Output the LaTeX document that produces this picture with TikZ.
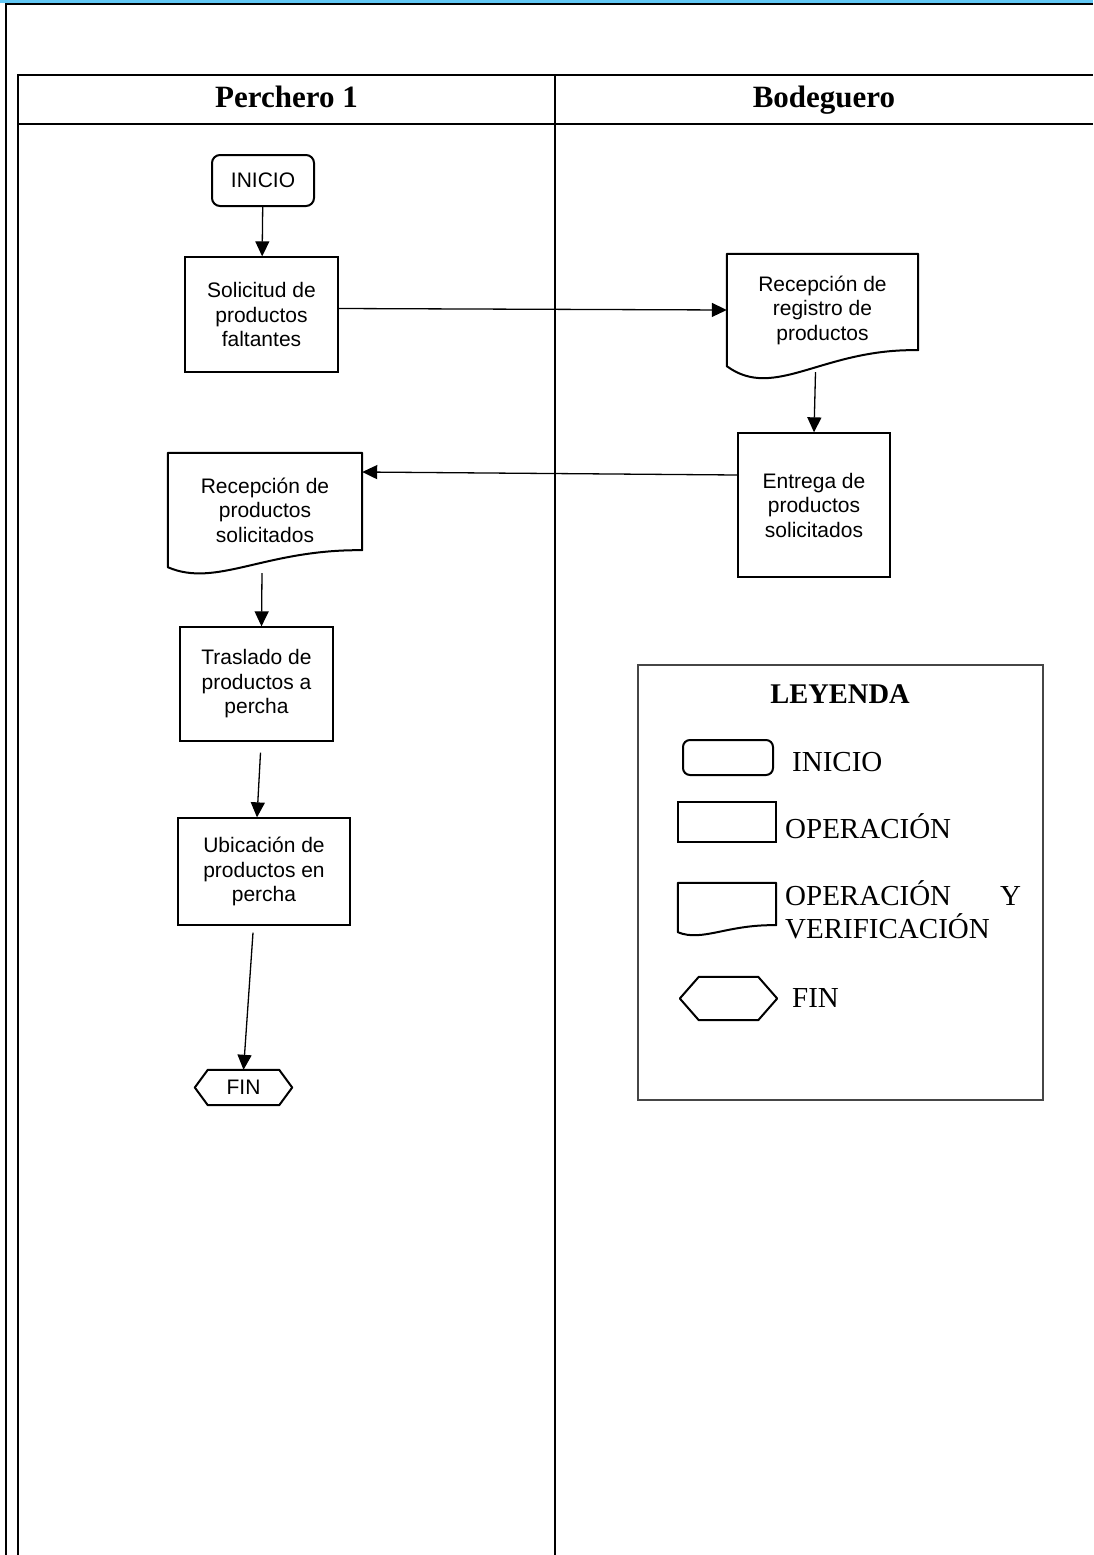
\documentclass[tikz,border=0pt]{standalone}
\usepackage{fontspec}
\setmainfont{Liberation Serif}
\newfontfamily\arialfont{Liberation Sans}
\usetikzlibrary{arrows.meta,calc}
\definecolor{bandblue}{RGB}{98,200,245}
\definecolor{legendgray}{RGB}{70,70,70}

\tikzset{
  frame/.style={line width=2pt},
  procbox/.style={draw, rectangle, line width=1.3pt, align=center, inner sep=0pt,
    font=\arialfont\fontsize{21}{24.5}\selectfont},
  startbox/.style={procbox, rounded corners=8pt, line width=2pt},
  docbox/.style={rectangle, draw=none, align=center, inner sep=0pt,
    font=\arialfont\fontsize{21}{24.5}\selectfont},
  hexbox/.style={docbox},
  flow/.style={line width=1.3pt, -{Triangle[length=15pt,width=14pt]}},
  docline/.style={line width=2pt, line join=round},
  head/.style={anchor=base, font=\bfseries\fontsize{31}{36}\selectfont},
  legtext/.style={anchor=west, inner sep=0pt, align=left,
    font=\fontsize{29}{33}\selectfont},
  legshape/.style={draw, line width=2pt, inner sep=0pt},
}

% document symbol drawn round a node: name, rise of the right corner,
% depth and height of the bottom wave's control points
\newcommand\docoutline[4]{%
  \draw[docline] (#1.south west) -- (#1.north west) -- (#1.north east)
    -- ([yshift=#2]#1.south east)
    .. controls ($(#1.south west)!0.5!(#1.south east)+(0,#4)$)
       and ($(#1.south west)!0.25!(#1.south east)+(0,-#3)$) .. (#1.south west) -- cycle;}

% hexagon (terminator) drawn round a node: name, length of the points
\newcommand\hexoutline[2]{%
  \draw[docline] (#1.west) -- ([xshift=#2]#1.north west) -- ([xshift=-#2]#1.north east)
    -- (#1.east) -- ([xshift=-#2]#1.south east) -- ([xshift=#2]#1.south west) -- cycle;}

\begin{document}
\begin{tikzpicture}[x=1pt,y=-1pt]
\useasboundingbox (0,0) rectangle (1093,1555);

% page frame and swim-lane table
\fill[bandblue] (0,0) rectangle (1093,3.2);
\draw[frame] (5.8,1555) -- (5.8,4.2) -- (1093,4.2);
\draw[frame] (18.3,1555) -- (18.3,75) -- (1093,75);
\draw[frame] (18.3,124.3) -- (1093,124.3);
\draw[frame] (555,75) -- (555,1555);

\node[head] (h1) at (286.5,107.5) {Perchero 1};
\node[head] (h2) at (824,107.5) {Bodeguero};

% flow
\node[startbox, minimum width=102pt, minimum height=51pt] (ini) at (263,180.5) {INICIO};
\node[procbox, minimum width=153pt, minimum height=115pt] (sol) at (261.5,314.5)
  {Solicitud de\\productos\\faltantes};
\node[docbox, minimum width=191pt, minimum height=112pt] (rr) at (822.5,310)
  {Recepción de\\registro de\\productos};
\docoutline{rr}{16pt}{35pt}{18pt}
\node[procbox, minimum width=152pt, minimum height=144pt] (ent) at (814,505)
  {Entrega de\\productos\\solicitados};
\node[docbox, minimum width=194pt, minimum height=114pt] (rp) at (265,510)
  {Recepción de\\productos\\solicitados};
\docoutline{rp}{17pt}{21pt}{18pt}
\node[procbox, minimum width=153pt, minimum height=114pt] (tr) at (256.5,684)
  {Traslado de\\productos a\\percha};
\node[procbox, minimum width=172pt, minimum height=107pt] (ub) at (264,871.5)
  {Ubicación de\\productos en\\percha};
\node[hexbox, minimum width=97pt, minimum height=35pt] (fin) at (243.5,1087.5) {FIN};
\hexoutline{fin}{13pt}

\draw[flow] (ini) -- (sol);
\draw[flow] ([yshift=6pt]sol.east) -- (rr.west);
\draw[flow] ([xshift=-7pt,yshift=-6pt]rr.south) -- (ent.north);
\draw[flow] ([yshift=30pt]ent.west) -- ([yshift=38pt]rp.east);
\draw[flow] ([xshift=-3pt,yshift=-6pt]rp.south) -- ([xshift=5pt]tr.north);
\draw[flow] ([xshift=4pt,yshift=-11pt]tr.south) -- ([xshift=-7pt]ub.north);
\draw[flow] ([xshift=-11pt,yshift=-7pt]ub.south) -- (fin.north);

% legend
\node[draw=legendgray, line width=1.3pt, minimum width=405pt, minimum height=435pt,
  inner sep=0pt] (leg) at (840.5,882.5) {};
\node[font=\bfseries\fontsize{28.5}{33}\selectfont] (legt) at (840,694) {LEYENDA};
\node[legshape, rounded corners=7pt, minimum width=90pt, minimum height=35pt] (lini) at (728,757.5) {};
\node[legtext] (lini-t) at (792,762) {INICIO};
\node[legshape, minimum width=98pt, minimum height=40pt] (lop) at (727,822) {};
\node[legtext] (lop-t) at (785,826) {OPERACIÓN};
\node[inner sep=0pt, minimum width=98pt, minimum height=49pt] (ldoc) at (727,907.5) {};
\docoutline{ldoc}{7pt}{10pt}{8pt}
\node[legtext, text width=236pt] (ldoc-t) at (785,910) {OPERACIÓN\hfill Y\\VERIFICACIÓN};
\node[inner sep=0pt, minimum width=97pt, minimum height=43pt] (lfin) at (728.5,998.5) {};
\hexoutline{lfin}{19pt}
\node[legtext] (lfin-t) at (792,998) {FIN};
\end{tikzpicture}
\end{document}
